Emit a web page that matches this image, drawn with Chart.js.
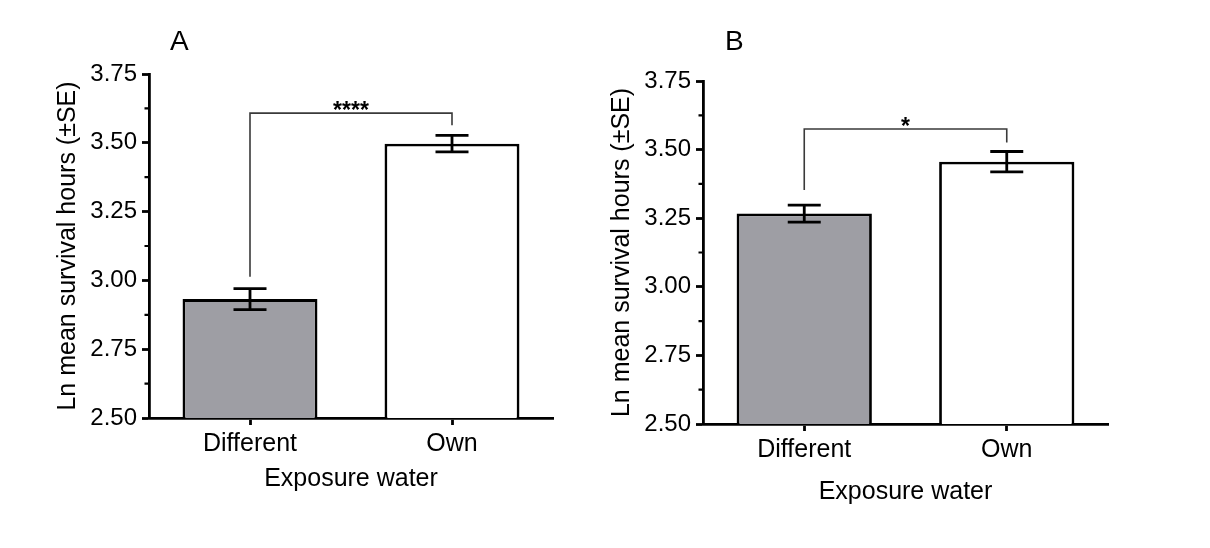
<!DOCTYPE html>
<html><head><meta charset="utf-8">
<script src="https://cdn.jsdelivr.net/npm/chart.js@4.4.1/dist/chart.umd.min.js"></script>
<style>
html,body{margin:0;padding:0;background:#fff;width:1210px;height:548px;overflow:hidden}
.wrap{position:absolute;top:0;height:548px}
#wa{left:0;width:600px}
#wb{left:590px;width:620px}
canvas{display:block}
</style></head><body>
<div class="wrap" id="wa"><canvas id="ca" width="600" height="548"></canvas></div>
<div class="wrap" id="wb"><canvas id="cb" width="620" height="548"></canvas></div>
<script>
// ---- data ----
const categories = ['Different', 'Own'];
const panelLabels = ['A', 'B'];
const meansA = [2.932, 3.497];
const seA = [0.038, 0.030];
const meansB = [3.267, 3.456];
const seB = [0.031, 0.037];
const sigLabels = ['****', '*'];
const sigLevels = [3.608, 3.575];
const yTickLabels = ['2.50', '2.75', '3.00', '3.25', '3.50', '3.75'];
const yMin = 2.5, yMax = 3.75, yStep = 0.25;
const xTitle = 'Exposure water';
const yTitle = 'Ln mean survival hours (±SE)';
const barColors = ['#9e9ea4', '#ffffff'];

const FONT = "'Liberation Sans', Arial, Helvetica, sans-serif";
Chart.defaults.color = '#000';
Chart.defaults.font.family = FONT;

function makePanel(canvasId, means, se, sig, sigLevel, letter, lay) {
  const panelPlugin = {
    id: 'panelExtras' + canvasId,
    afterDatasetsDraw(chart) {
      const ctx = chart.ctx;
      const ys = chart.scales.y;
      const meta = chart.getDatasetMeta(0);
      ctx.save();
      // error bars
      ctx.strokeStyle = '#000';
      ctx.lineWidth = 2.8;
      ctx.lineCap = 'butt';
      const errTops = [];
      meta.data.forEach((bar, i) => {
        const x = bar.x;
        const yt = ys.getPixelForValue(means[i] + se[i]);
        const yb = ys.getPixelForValue(means[i] - se[i]);
        errTops.push(yt);
        const hw = 16.5;
        ctx.beginPath();
        ctx.moveTo(x, yt); ctx.lineTo(x, yb);
        ctx.moveTo(x - hw, yt); ctx.lineTo(x + hw, yt);
        ctx.moveTo(x - hw, yb); ctx.lineTo(x + hw, yb);
        ctx.stroke();
      });
      // significance bracket
      const by = ys.getPixelForValue(sigLevel);
      const x0 = meta.data[0].x, x1 = meta.data[1].x;
      ctx.strokeStyle = '#3a3a3a';
      ctx.lineWidth = 1.6;
      ctx.beginPath();
      ctx.moveTo(x0, errTops[0] - lay.gapL);
      ctx.lineTo(x0, by);
      ctx.lineTo(x1, by);
      ctx.lineTo(x1, errTops[1] - lay.gapR);
      ctx.stroke();
      ctx.fillStyle = '#000';
      ctx.font = 'bold 23px ' + FONT;
      ctx.textAlign = 'center';
      ctx.textBaseline = 'alphabetic';
      ctx.fillText(sig, (x0 + x1) / 2, by + 4.5);
      // minor y ticks
      ctx.strokeStyle = '#000';
      ctx.lineWidth = 2.2;
      const ax = chart.chartArea.left;
      ctx.beginPath();
      for (let v = yMin + yStep / 2; v < yMax; v += yStep) {
        const py = ys.getPixelForValue(v);
        ctx.moveTo(ax - 4.5, py); ctx.lineTo(ax, py);
      }
      ctx.stroke();
      // panel letter
      ctx.font = '28px ' + FONT;
      ctx.textAlign = 'left';
      ctx.fillText(letter, lay.letterX, 50);
      ctx.restore();
    }
  };

  return new Chart(document.getElementById(canvasId), {
    type: 'bar',
    data: {
      labels: categories,
      datasets: [{
        data: means,
        backgroundColor: barColors,
        borderColor: '#000',
        borderWidth: 2.8,
        borderSkipped: false,
        barPercentage: 1,
        categoryPercentage: 0.668
      }]
    },
    options: {
      responsive: false,
      animation: false,
      devicePixelRatio: 1,
      layout: { padding: { left: lay.left, top: lay.top, right: lay.right, bottom: lay.bottom } },
      plugins: { legend: { display: false }, tooltip: { enabled: false } },
      scales: {
        x: {
          grid: { display: true, drawOnChartArea: false, drawTicks: true, tickLength: 7, tickWidth: 2.8, tickColor: '#000', offset: false },
          border: { display: true, color: '#000', width: 2.8 },
          ticks: { font: { size: 25, family: FONT }, color: '#000', padding: 4, maxRotation: 0 },
          title: { display: true, text: xTitle, font: { size: 25, family: FONT }, color: '#000', padding: { top: 0, bottom: 0 } },
          afterFit(scale) { scale.height = lay.xH; }
        },
        y: {
          min: yMin, max: yMax,
          grid: { display: true, drawOnChartArea: false, drawTicks: true, tickLength: 7, tickWidth: 2.8, tickColor: '#000' },
          border: { display: true, color: '#000', width: 2.8 },
          ticks: {
            stepSize: yStep,
            font: { size: 24, family: FONT }, color: '#000', padding: 5,
            callback(v) {
              const idx = Math.round((v - yMin) / yStep);
              return yTickLabels[idx] !== undefined ? yTickLabels[idx] : '';
            }
          },
          title: { display: true, text: yTitle, font: { size: 25, family: FONT }, color: '#000', padding: { top: 0, bottom: 0 } },
          afterFit(scale) { scale.width = lay.yW; }
        }
      }
    },
    plugins: [panelPlugin]
  });
}

makePanel('ca', meansA, seA, sigLabels[0], sigLevels[0], panelLabels[0],
  { left: 53, top: 74, right: 47, bottom: 54, yW: 96, xH: 76, gapL: 12, gapR: 10, letterX: 170 });
makePanel('cb', meansB, seB, sigLabels[1], sigLevels[1], panelLabels[1],
  { left: 17, top: 81, right: 102, bottom: 41, yW: 96, xH: 83, gapL: 15, gapR: 9, letterX: 135 });
</script>
</body></html>
